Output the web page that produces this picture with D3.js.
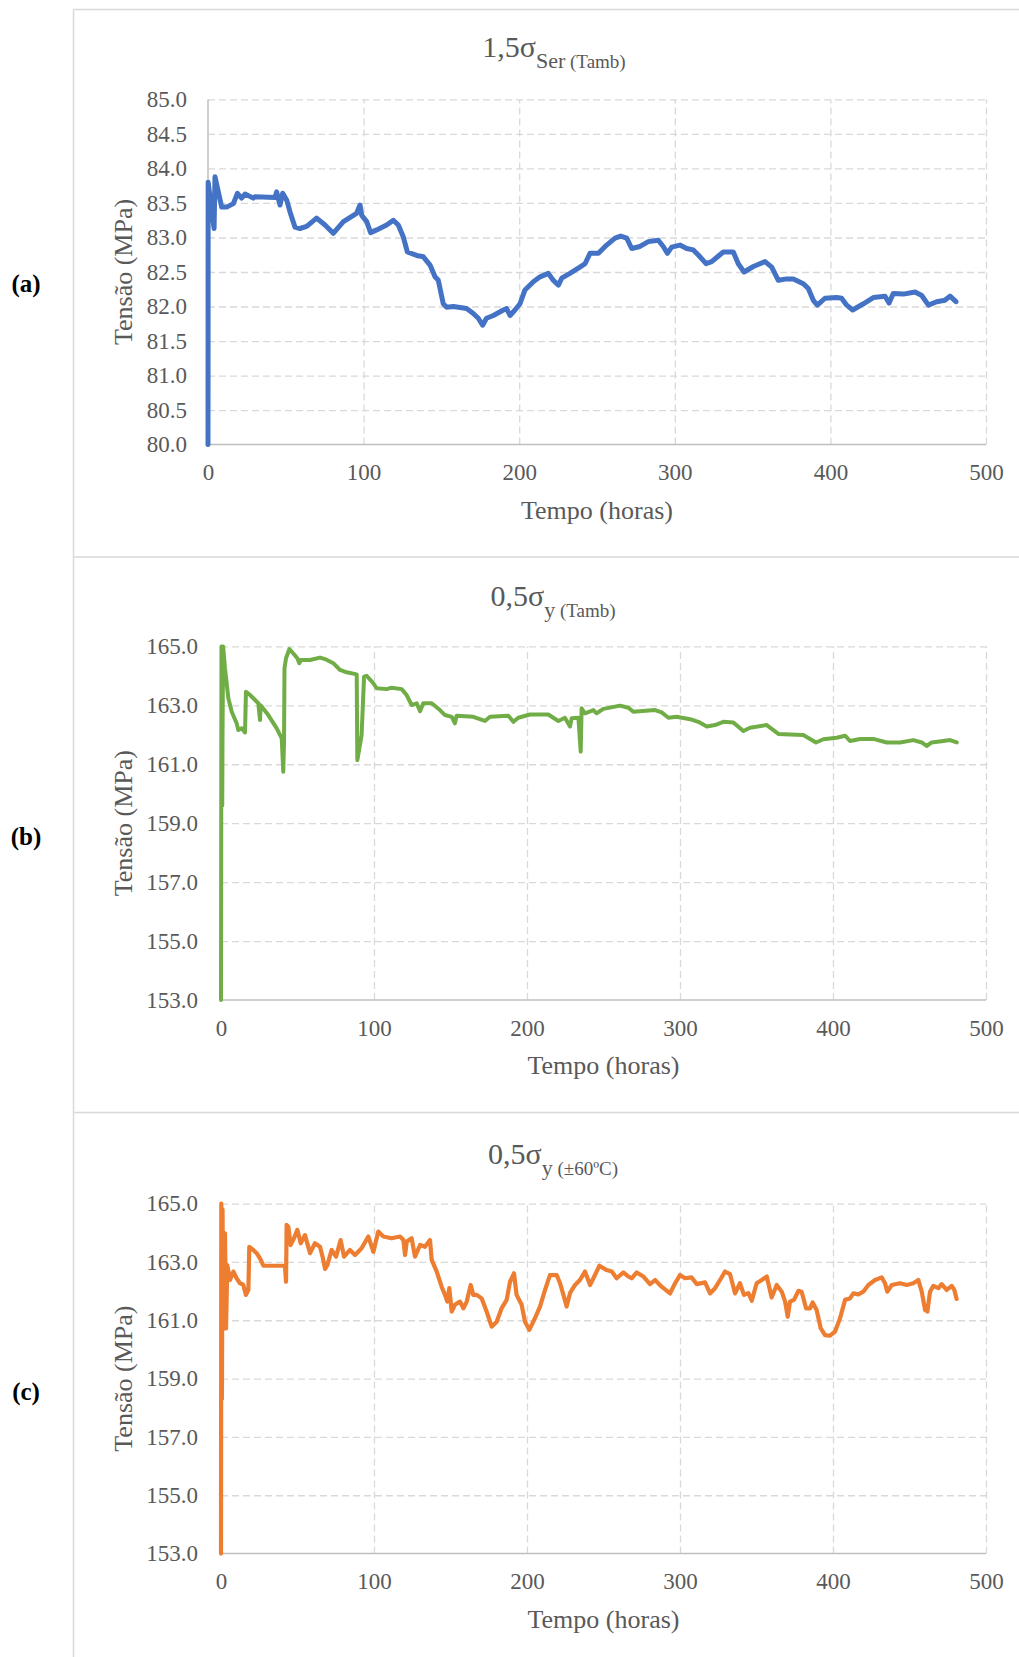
<!DOCTYPE html>
<html>
<head>
<meta charset="utf-8">
<script src="https://cdn.jsdelivr.net/npm/d3@7"></script>
<style>
  body { margin: 0; background: #fff; }
  svg { display: block; font-family: "Liberation Serif", "Times New Roman", serif; }
</style>
</head>
<body>
<svg id="fig"></svg>
<script>
// tick values
const xTicks = [0, 100, 200, 300, 400, 500];
const yTicksA = [80, 80.5, 81, 81.5, 82, 82.5, 83, 83.5, 84, 84.5, 85];
const yTicksBC = [153, 155, 157, 159, 161, 163, 165];

// (a) 1,5 sigma Ser (Tamb)
const timeA = [
  0, 0.1, 3.9, 4.5, 8.8, 12, 16.3, 18.9, 21.6, 23.8,
  29.1, 30.2, 43.1, 44.1, 46.3, 48, 50.6, 52.7, 55.9, 59.1,
  63.4, 69.8, 75.2, 80.5, 87, 95.5, 97.7, 98.8, 102, 104.5,
  108.4, 114.8, 119.1, 122.3, 125.5, 128.1, 134.1, 138.4, 142.7, 145.9,
  148, 151.2, 153.4, 157.7, 166.2, 170.5, 173.7, 176.5, 179, 183.4,
  189.8, 191.9, 194.1, 197.3, 200.5, 203.7, 209.1, 213.4, 218.7, 221.9,
  225.2, 227.3, 232.6, 239, 242.3, 245.5, 250.9, 256.2, 261.6, 265.2,
  269.1, 272.3, 277.6, 283, 289.4, 292.6, 295.2, 298, 303.3, 307.6,
  311.9, 316.2, 320.1, 323.7, 326.9, 331.2, 337.6, 340.8, 344.5, 350.5,
  358, 362.3, 366.5, 371.9, 376.2, 382.6, 385.8, 389, 391.6, 396.5,
  404, 407.2, 410.5, 414.3, 421.2, 427.6, 435.1, 437.7, 440.4, 446.9,
  454.4, 458.7, 463, 468.3, 473.6, 476.9, 480.7
];
const stressA = [
  80.0, 83.8, 83.13, 83.88, 83.44, 83.44, 83.49, 83.64, 83.57, 83.63,
  83.57, 83.59, 83.58, 83.66, 83.47, 83.64, 83.54, 83.37, 83.15, 83.13,
  83.16, 83.28, 83.18, 83.06, 83.23, 83.35, 83.47, 83.32, 83.23, 83.07,
  83.11, 83.18, 83.25, 83.18, 83.01, 82.79, 82.74, 82.72, 82.60, 82.43,
  82.38, 82.04, 81.99, 82.0, 81.97, 81.90, 81.83, 81.73, 81.83, 81.87,
  81.95, 81.97, 81.87, 81.95, 82.04, 82.24, 82.36, 82.43, 82.48, 82.38,
  82.31, 82.41, 82.48, 82.57, 82.62, 82.77, 82.77, 82.89, 82.99, 83.02,
  82.99, 82.84, 82.87, 82.94, 82.96, 82.87, 82.77, 82.86, 82.89, 82.84,
  82.82, 82.72, 82.62, 82.65, 82.71, 82.79, 82.79, 82.62, 82.50, 82.58,
  82.65, 82.57, 82.38, 82.40, 82.40, 82.33, 82.26, 82.09, 82.02, 82.12,
  82.13, 82.12, 82.02, 81.95, 82.04, 82.13, 82.15, 82.05, 82.19, 82.18,
  82.21, 82.16, 82.02, 82.07, 82.09, 82.15, 82.07
];

// (b) 0,5 sigma y (Tamb)
const timeB = [
  0, 0.3, 0.8, 1.0, 1.4, 2.6, 4.8, 7, 10.2, 11.3,
  13.5, 15.7, 16.3, 19, 24.4, 25.5, 25.9, 30.9, 36.4, 39.7,
  40.7, 41.2, 41.5, 42.5, 44.7, 47.3, 49.9, 51.2, 52.1, 58.2,
  64.7, 68, 73.4, 77.8, 82.1, 88.7, 89.1, 91.9, 93.5, 95.2,
  99.6, 101.7, 108.3, 111.5, 118.1, 121.3, 124.6, 127.9, 130.1, 132.2,
  137.7, 143.1, 146.4, 150.8, 152.9, 154, 164.9, 172.5, 175.8, 187.8,
  191.1, 194.3, 202, 213.9, 220.5, 224.8, 228.1, 229.2, 233.6, 235.1,
  235.7, 237.9, 243.4, 245.5, 249.9, 260.8, 266.3, 269.5, 283.7, 288.0,
  292.4, 297.8, 306.6, 312, 317.5, 322.9, 328.3, 334.9, 341.4, 345.8,
  356.7, 364.3, 372, 380.6, 385, 388.9, 393.7, 402.4, 407.9, 411.1,
  417.7, 426.4, 435.1, 443.8, 452.5, 458, 461.2, 464.5, 472.1, 476.5, 480.9
];
const stressB = [
  153.0, 165.0, 159.6, 162.0, 165.0, 164.26, 163.24, 162.78, 162.39, 162.16,
  162.22, 162.08, 163.46, 163.35, 163.07, 162.5, 163.0, 162.67, 162.22, 161.88,
  160.75, 161.77, 164.26, 164.6, 164.91, 164.76, 164.6, 164.43, 164.54, 164.54,
  164.62, 164.57, 164.43, 164.2, 164.12, 164.05, 161.14, 161.99, 163.97, 164.0,
  163.75, 163.58, 163.55, 163.6, 163.55, 163.35, 163.01, 163.07, 162.8, 163.07,
  163.07, 162.84, 162.67, 162.61, 162.39, 162.65, 162.61, 162.47, 162.61, 162.65,
  162.44, 162.58, 162.69, 162.69, 162.47, 162.58, 162.28, 162.56, 162.58, 161.43,
  162.9, 162.73, 162.84, 162.73, 162.88, 162.99, 162.92, 162.78, 162.84, 162.76,
  162.58, 162.61, 162.53, 162.44, 162.28, 162.33, 162.44, 162.42, 162.13, 162.24,
  162.33, 162.03, 162.01, 161.99, 161.86, 161.74, 161.85, 161.9, 161.97, 161.79,
  161.86, 161.86, 161.74, 161.74, 161.82, 161.74, 161.62, 161.74, 161.79, 161.82, 161.74
];

// (c) 0,5 sigma y (±60ºC)
const timeC = [
  0, 0.2, 0.6, 1.0, 1.5, 2.6, 3.3, 4.1, 5.9, 8.1,
  10.2, 12.4, 14.6, 16.3, 17.9, 18.5, 21.1, 23.3, 25.5, 27.7,
  41.8, 42.5, 42.9, 44, 45.5, 47.7, 49.9, 52.1, 54.9, 58.2,
  61.4, 64.7, 66.4, 68, 69.5, 72.3, 75.2, 78.2, 80.4, 84.3,
  87.6, 91.9, 96.3, 99.6, 102.8, 106.1, 111.5, 117, 119.2, 120.3,
  121.4, 124.6, 126.8, 130.1, 133.3, 136.6, 137.7, 141, 144.2, 146.4,
  147.9, 149.2, 150.8, 152.9, 156.2, 158.4, 160.6, 163.2, 164.9, 167.1,
  170.4, 173.6, 176.9, 180.2, 183.4, 186.7, 188.9, 191.5, 193.2, 196.5,
  198.7, 201.5, 205.2, 208.5, 211.8, 215, 219.4, 221.6, 223.8, 225.9,
  228.1, 231.4, 234.6, 237.9, 241.2, 243.4, 247.3, 252.1, 255.4, 258.6,
  263, 266.3, 268.4, 271.7, 276.1, 280.4, 283.7, 288.0, 293.5, 296.8,
  300, 303.3, 307.6, 310.9, 316.4, 319.6, 322.9, 326.2, 329.4, 332.7,
  336, 339.2, 341.8, 344.7, 346.9, 350.1, 353.4, 356.7, 359.9, 363.2,
  366.5, 368.7, 370.4, 371.9, 374.5, 377.4, 379.5, 382.4, 385, 386.7,
  389.3, 392, 394.8, 398.1, 401.3, 404.6, 407.9, 411.1, 413.3, 416.6,
  419.8, 423.1, 427.5, 431.8, 434, 435.5, 438.4, 443.8, 448.2, 452.5,
  455.8, 458, 460.2, 461.7, 463.4, 465.6, 468.9, 471, 474.3, 477.6,
  479.3, 480.8
];
const stressC = [
  153.0, 165.0, 158.3, 164.8, 160.72, 163.98, 160.72, 162.89, 162.38, 162.67,
  162.44, 162.27, 162.21, 161.87, 162.04, 163.52, 163.41, 163.3, 163.12, 162.87,
  162.87, 162.32, 164.27, 164.21, 163.58, 163.81, 164.1, 163.64, 163.92, 163.3,
  163.64, 163.52, 163.18, 162.76, 162.89, 163.41, 163.18, 163.75, 163.18, 163.41,
  163.24, 163.47, 163.87, 163.35, 164.04, 163.87, 163.81, 163.87, 163.75, 163.24,
  163.70, 163.81, 163.18, 163.58, 163.52, 163.75, 163.07, 162.67, 162.15, 161.87,
  161.64, 162.1, 161.3, 161.53, 161.64, 161.41, 161.64, 162.21, 161.87, 161.87,
  161.75, 161.3, 160.78, 160.95, 161.41, 161.7, 162.32, 162.61, 161.87, 161.53,
  160.95, 160.67, 161.07, 161.47, 162.04, 162.55, 162.55, 162.27, 161.87, 161.47,
  161.93, 162.21, 162.38, 162.67, 162.21, 162.44, 162.87, 162.72, 162.67, 162.44,
  162.64, 162.5, 162.44, 162.64, 162.5, 162.24, 162.38, 162.15, 161.92, 162.27,
  162.55, 162.44, 162.47, 162.24, 162.3, 161.92, 162.1, 162.38, 162.67, 162.58,
  161.92, 162.27, 161.87, 161.93, 161.67, 162.27, 162.38, 162.5, 161.78, 162.21,
  161.98, 161.64, 161.12, 161.64, 161.7, 162.01, 161.98, 161.41, 161.41, 161.61,
  161.35, 160.72, 160.49, 160.47, 160.61, 161.07, 161.7, 161.75, 161.92, 161.89,
  161.98, 162.21, 162.38, 162.47, 162.27, 161.98, 162.21, 162.27, 162.21, 162.27,
  162.38, 161.98, 161.35, 161.30, 161.98, 162.18, 162.1, 162.24, 162.04, 162.18,
  162.04, 161.73
];

const svgWidth = 1019;
const svgHeight = 1657;
const textGrey = "#595959";
const gridGrey = "#d9d9d9";

let svg = d3.select("#fig")
  .attr("width", svgWidth)
  .attr("height", svgHeight);

//panel frames
const frameLeft = 73.5;
svg.append("line")
  .attr("x1", frameLeft).attr("x2", frameLeft)
  .attr("y1", 9.5).attr("y2", svgHeight)
  .attr("stroke", gridGrey).attr("stroke-width", 1.5);
[9.5, 557, 1112.5].forEach(yy => {
  svg.append("line")
    .attr("x1", frameLeft).attr("x2", svgWidth)
    .attr("y1", yy).attr("y2", yy)
    .attr("stroke", gridGrey).attr("stroke-width", 1.5);
});

const panels = [
  { time: timeA, stress: stressA, color: "#4472C4", width: 5,
    left: 208, right: 986, top: 99.4, bottom: 444.6,
    yDomain: [80, 85], yTicks: yTicksA, tickPad: 21,
    titleX: 554, titleY: 57, main: "1,5σ", sub: "Ser", rest: " (Tamb)",
    letter: "(a)", letterY: 292 },
  { time: timeB, stress: stressB, color: "#70AD47", width: 4,
    left: 221, right: 986, top: 646.4, bottom: 1000,
    yDomain: [153, 165], yTicks: yTicksBC, tickPad: 23,
    titleX: 553, titleY: 606, main: "0,5σ", sub: "y", rest: " (Tamb)",
    letter: "(b)", letterY: 845 },
  { time: timeC, stress: stressC, color: "#ED7D31", width: 4.2,
    left: 221, right: 986, top: 1203.6, bottom: 1553.6,
    yDomain: [153, 165], yTicks: yTicksBC, tickPad: 23,
    titleX: 553, titleY: 1164, main: "0,5σ", sub: "y", rest: " (±60ºC)",
    letter: "(c)", letterY: 1400 }
];

function drawPanel(p) {
  const g = svg.append("g");
  const xScale = d3.scaleLinear().domain([0, 500]).range([p.left, p.right]);
  const yScale = d3.scaleLinear().domain(p.yDomain).range([p.bottom, p.top]);

  //horizontal grid
  g.append("g")
    .attr("transform", `translate(${p.left},0)`)
    .call(d3.axisLeft(yScale).tickValues(p.yTicks.slice(1)).tickSize(-(p.right - p.left)).tickFormat(""))
    .call(s => s.select(".domain").remove())
    .selectAll("line")
    .attr("stroke", gridGrey)
    .attr("stroke-width", 1.3)
    .attr("stroke-dasharray", "7,4");

  //vertical grid
  g.append("g")
    .attr("transform", `translate(0,${p.bottom})`)
    .call(d3.axisBottom(xScale).tickValues(xTicks.slice(1)).tickSize(-(p.bottom - p.top)).tickFormat(""))
    .call(s => s.select(".domain").remove())
    .selectAll("line")
    .attr("stroke", gridGrey)
    .attr("stroke-width", 1.3)
    .attr("stroke-dasharray", "7,4");

  //axis lines
  g.append("line")
    .attr("x1", p.left).attr("x2", p.right)
    .attr("y1", p.bottom).attr("y2", p.bottom)
    .attr("stroke", "#bfbfbf").attr("stroke-width", 1.5);
  g.append("line")
    .attr("x1", p.left).attr("x2", p.left)
    .attr("y1", p.top).attr("y2", p.bottom)
    .attr("stroke", "#bfbfbf").attr("stroke-width", 1.5);

  //tick labels
  const yAxis = g.append("g")
    .attr("transform", `translate(${p.left},0)`)
    .call(d3.axisLeft(yScale).tickValues(p.yTicks).tickSize(0).tickPadding(p.tickPad).tickFormat(d3.format(".1f")))
    .attr("font-family", null)
    .attr("font-size", null);
  yAxis.select(".domain").remove();
  yAxis.selectAll("text")
    .attr("font-size", 23)
    .attr("fill", textGrey);

  const xAxis = g.append("g")
    .attr("transform", `translate(0,${p.bottom})`)
    .call(d3.axisBottom(xScale).tickValues(xTicks).tickSize(0).tickPadding(0).tickFormat(d3.format("d")))
    .attr("font-family", null)
    .attr("font-size", null);
  xAxis.select(".domain").remove();
  xAxis.selectAll("text")
    .attr("font-size", 23)
    .attr("fill", textGrey)
    .attr("dy", null)
    .attr("y", 35.5);

  //data line
  const pts = d3.zip(p.time, p.stress);
  g.append("path")
    .datum(pts)
    .attr("fill", "none")
    .attr("stroke", p.color)
    .attr("stroke-width", p.width)
    .attr("stroke-linejoin", "round")
    .attr("stroke-linecap", "round")
    .attr("d", d3.line().x(d => xScale(d[0])).y(d => yScale(d[1])));

  //title
  const title = g.append("text")
    .attr("x", p.titleX)
    .attr("y", p.titleY)
    .attr("text-anchor", "middle")
    .attr("fill", textGrey);
  title.append("tspan").attr("font-size", 30).text(p.main);
  title.append("tspan").attr("font-size", 22).attr("dy", 11).text(p.sub);
  title.append("tspan").attr("font-size", 19).text(p.rest);

  //axis titles
  g.append("text")
    .attr("x", (p.left + p.right) / 2)
    .attr("y", p.bottom + 74)
    .attr("text-anchor", "middle")
    .attr("font-size", 26)
    .attr("fill", textGrey)
    .text("Tempo (horas)");

  g.append("text")
    .attr("transform", `translate(132,${(p.top + p.bottom) / 2}) rotate(-90)`)
    .attr("text-anchor", "middle")
    .attr("font-size", 26)
    .attr("fill", textGrey)
    .text("Tensão (MPa)");

  //panel letter
  g.append("text")
    .attr("x", 26)
    .attr("y", p.letterY)
    .attr("text-anchor", "middle")
    .attr("font-size", 25)
    .attr("font-weight", "bold")
    .attr("fill", "#000")
    .text(p.letter);
}

panels.forEach(drawPanel);
</script>
</body>
</html>
